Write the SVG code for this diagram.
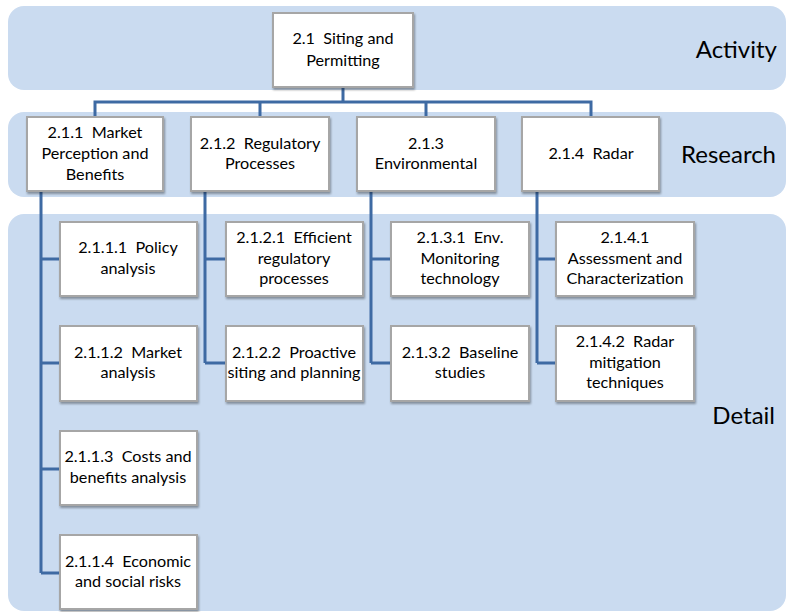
<svg xmlns="http://www.w3.org/2000/svg" width="788" height="612" viewBox="0 0 788 612">
<defs>
<filter id="sh" x="-10%" y="-10%" width="125%" height="130%">
<feDropShadow dx="1" dy="2" stdDeviation="1.2" flood-color="#000" flood-opacity="0.35"/>
</filter>
<style>
.band{fill:#cadbf0}
.box{fill:#fff;stroke:#a6a6a6;stroke-width:2;filter:url(#sh)}
.t{font-family:Lato,"Open Sans",sans-serif;font-size:16.2px;fill:#000;text-anchor:middle;white-space:pre}
.lbl{font-family:Lato,"Open Sans",sans-serif;font-size:24px;fill:#000;text-anchor:end}
.c{fill:none;stroke:#3e6aa3;stroke-width:3}
</style>
</defs>
<g id="bands">
<rect class="band" x="8" y="6" width="778" height="84" rx="16"/>
<rect class="band" x="8" y="112" width="778" height="85" rx="16"/>
<rect class="band" x="8" y="214" width="778" height="397" rx="16"/>
<text class="lbl" x="777" y="58">Activity</text>
<text class="lbl" x="776" y="163">Research</text>
<text class="lbl" x="775" y="424">Detail</text>
</g>
<g id="connectors">
<path class="c" d="M343 87V102M95 117V102H591V117M260 102V117M426 102V117"/>
<path class="c" d="M41 191V573M41 259H60M41 363H60M41 469H60M41 573H60"/>
<path class="c" d="M205 191V363M205 259H226M205 363H226"/>
<path class="c" d="M371 191V363M371 259H391M371 363H391"/>
<path class="c" d="M537 191V363M537 259H556M537 363H556"/>
</g>
<g id="n2_1"><rect class="box" x="273" y="13" width="140" height="74"/><text class="t" x="343" y="44" xml:space="preserve">2.1  Siting and</text><text class="t" x="343" y="66">Permitting</text></g>
<g id="n2_1_1"><rect class="box" x="27" y="117" width="136" height="74"/><text class="t" x="95" y="138" xml:space="preserve">2.1.1  Market</text><text class="t" x="95" y="159">Perception and</text><text class="t" x="95" y="180">Benefits</text></g>
<g id="n2_1_2"><rect class="box" x="191" y="117" width="138" height="74"/><text class="t" x="260" y="149" xml:space="preserve">2.1.2  Regulatory</text><text class="t" x="260" y="169">Processes</text></g>
<g id="n2_1_3"><rect class="box" x="357" y="117" width="138" height="74"/><text class="t" x="426" y="149">2.1.3</text><text class="t" x="426" y="169">Environmental</text></g>
<g id="n2_1_4"><rect class="box" x="522" y="117" width="137" height="74"/><text class="t" x="591" y="159" xml:space="preserve">2.1.4  Radar</text></g>
<g id="n2_1_1_1"><rect class="box" x="60" y="222" width="137" height="74"/><text class="t" x="128" y="253" xml:space="preserve">2.1.1.1  Policy</text><text class="t" x="128" y="274">analysis</text></g>
<g id="n2_1_1_2"><rect class="box" x="60" y="326" width="137" height="75"/><text class="t" x="128" y="358" xml:space="preserve">2.1.1.2  Market</text><text class="t" x="128" y="378">analysis</text></g>
<g id="n2_1_1_3"><rect class="box" x="60" y="431" width="137" height="74"/><text class="t" x="128" y="462" xml:space="preserve">2.1.1.3  Costs and</text><text class="t" x="128" y="483">benefits analysis</text></g>
<g id="n2_1_1_4"><rect class="box" x="60" y="535" width="137" height="74"/><text class="t" x="128" y="567" xml:space="preserve">2.1.1.4  Economic</text><text class="t" x="128" y="587">and social risks</text></g>
<g id="n2_1_2_1"><rect class="box" x="226" y="222" width="137" height="74"/><text class="t" x="294" y="243" xml:space="preserve">2.1.2.1  Efficient</text><text class="t" x="294" y="264">regulatory</text><text class="t" x="294" y="284">processes</text></g>
<g id="n2_1_2_2"><rect class="box" x="226" y="326" width="137" height="75"/><text class="t" x="294" y="358" xml:space="preserve">2.1.2.2  Proactive</text><text class="t" x="294" y="378">siting and planning</text></g>
<g id="n2_1_3_1"><rect class="box" x="391" y="222" width="138" height="74"/><text class="t" x="460" y="243" xml:space="preserve">2.1.3.1  Env.</text><text class="t" x="460" y="264">Monitoring</text><text class="t" x="460" y="284">technology</text></g>
<g id="n2_1_3_2"><rect class="box" x="391" y="326" width="138" height="75"/><text class="t" x="460" y="358" xml:space="preserve">2.1.3.2  Baseline</text><text class="t" x="460" y="378">studies</text></g>
<g id="n2_1_4_1"><rect class="box" x="556" y="222" width="138" height="74"/><text class="t" x="625" y="243">2.1.4.1</text><text class="t" x="625" y="264">Assessment and</text><text class="t" x="625" y="284">Characterization</text></g>
<g id="n2_1_4_2"><rect class="box" x="556" y="326" width="138" height="75"/><text class="t" x="625" y="347" xml:space="preserve">2.1.4.2  Radar</text><text class="t" x="625" y="368">mitigation</text><text class="t" x="625" y="388">techniques</text></g>
</svg>
